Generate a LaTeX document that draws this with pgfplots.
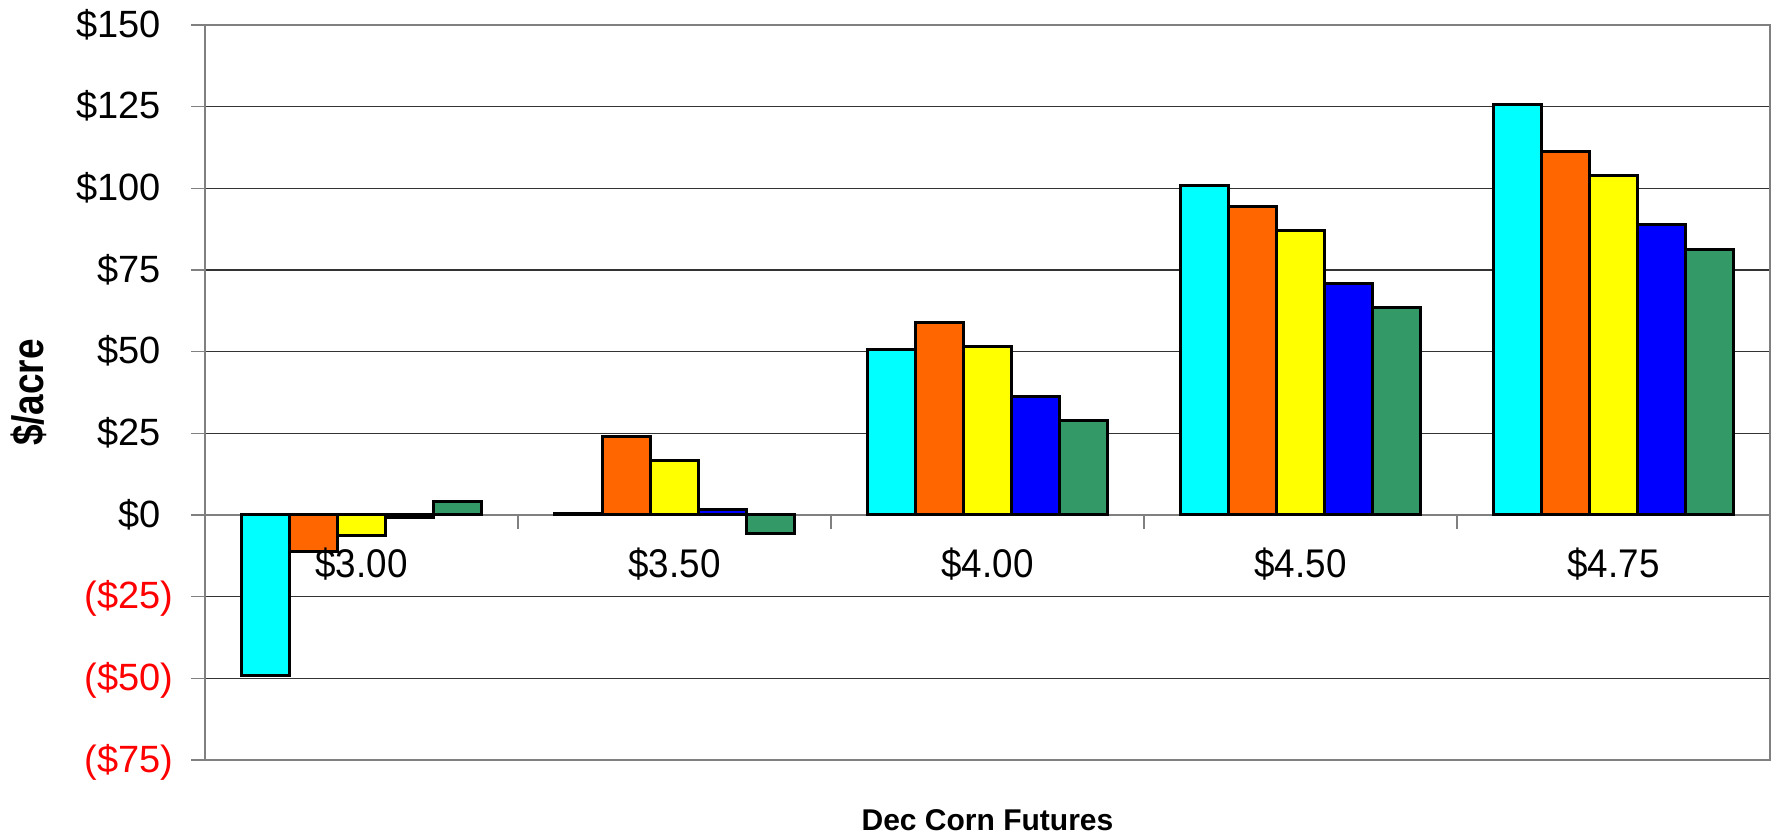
\documentclass[border=0pt]{standalone}
\usepackage{fontspec}
\setmainfont{Liberation Sans}
\newfontfamily\catfont[FakeStretch=0.92]{Liberation Sans}
\newfontfamily\ylabfont[FakeStretch=0.84]{Liberation Sans}
\usepackage{pgfplots}
\usepackage{pgfplotstable}
\pgfplotsset{compat=1.18}
\definecolor{cA}{HTML}{00FFFF}
\definecolor{cB}{HTML}{FF6600}
\definecolor{cC}{HTML}{FFFF00}
\definecolor{cD}{HTML}{0000FF}
\definecolor{cE}{HTML}{339966}
\definecolor{axgray}{HTML}{808080}
\pgfplotstableread{
x a b c d e
0 -49.1 -11.3 -6.4 -0.7 4.1
1 0.5 24.1 16.8 1.6 -5.8
2 50.7 58.8 51.5 36.3 29.0
3 100.9 94.3 87.1 70.9 63.5
4 125.8 111.2 103.9 88.8 81.3
}\datatable
\begin{document}
\begin{tikzpicture}
\begin{axis}[
  at={(0,0)}, anchor=south west,
  scale only axis, width=782.5pt, height=367.5pt,
  xmin=-0.5, xmax=4.5, ymin=-75, ymax=150,
  ybar=0pt, bar width=0.153846,
  xtick=\empty,
  ytick={-75,-50,...,150},
  yticklabels={\textcolor{red}{(\$75)},\textcolor{red}{(\$50)},\textcolor{red}{(\$25)},\$0\phantom{)},\$25\phantom{)},\$50\phantom{)},\$75\phantom{)},\$100\phantom{)},\$125\phantom{)},\$150\phantom{)}},
  ytick pos=left, tick align=outside, major tick length=7pt,
  tick style={axgray, line width=0.8pt},
  ymajorgrids, grid style={black!80, line width=0.6pt},
  axis line style={axgray, line width=1pt},
  extra y ticks={0}, extra y tick labels={},
  extra y tick style={grid style={axgray, line width=1.2pt}},
  yticklabel style={font=\fontsize{19}{21}\selectfont, anchor=east, inner sep=0pt, xshift=-8.5pt, yshift=-1pt},
  ylabel={\ylabfont\bfseries \$/acre},
  ylabel style={at={(axis description cs:-0.1125,0.5)}, anchor=center, font=\fontsize{22}{24}\selectfont},
  xlabel={\bfseries Dec Corn Futures},
  xlabel style={at={(axis description cs:0.5,-0.082)}, anchor=center, font=\fontsize{15}{17}\selectfont},
]
\addplot[fill=cA, draw=black, line width=1.5pt] table[x=x,y=a]{\datatable};
\addplot[fill=cB, draw=black, line width=1.5pt] table[x=x,y=b]{\datatable};
\addplot[fill=cC, draw=black, line width=1.5pt] table[x=x,y=c]{\datatable};
\addplot[fill=cD, draw=black, line width=1.5pt] table[x=x,y=d]{\datatable};
\addplot[fill=cE, draw=black, line width=1.5pt] table[x=x,y=e]{\datatable};
\end{axis}
\begin{axis}[
  at={(0,0)}, anchor=south west,
  scale only axis, width=782.5pt, height=367.5pt,
  xmin=-0.5, xmax=4.5, ymin=-75, ymax=150,
  axis x line*=middle, axis y line=none,
  x axis line style={draw=none},
  xtick={-0.5,0.5,...,4.5}, xticklabels={},
  tick align=outside, major tick length=7pt,
  tick style={axgray, line width=0.8pt},
  extra x ticks={0,1,2,3,4},
  extra x tick labels={\$3.00,\$3.50,\$4.00,\$4.50,\$4.75},
  extra x tick style={major tick length=0pt, tick style={draw=none}},
  xticklabel style={font=\catfont\fontsize{20}{22}\selectfont, anchor=center, inner sep=0pt, yshift=-24.5pt},
]
\addplot[draw=none, mark=none, forget plot] coordinates {(0,0)};
\end{axis}
\pgfresetboundingbox
\path[use as bounding box] (-102.5pt,-37.5pt) rectangle (787pt,380pt);
\end{tikzpicture}
\end{document}
